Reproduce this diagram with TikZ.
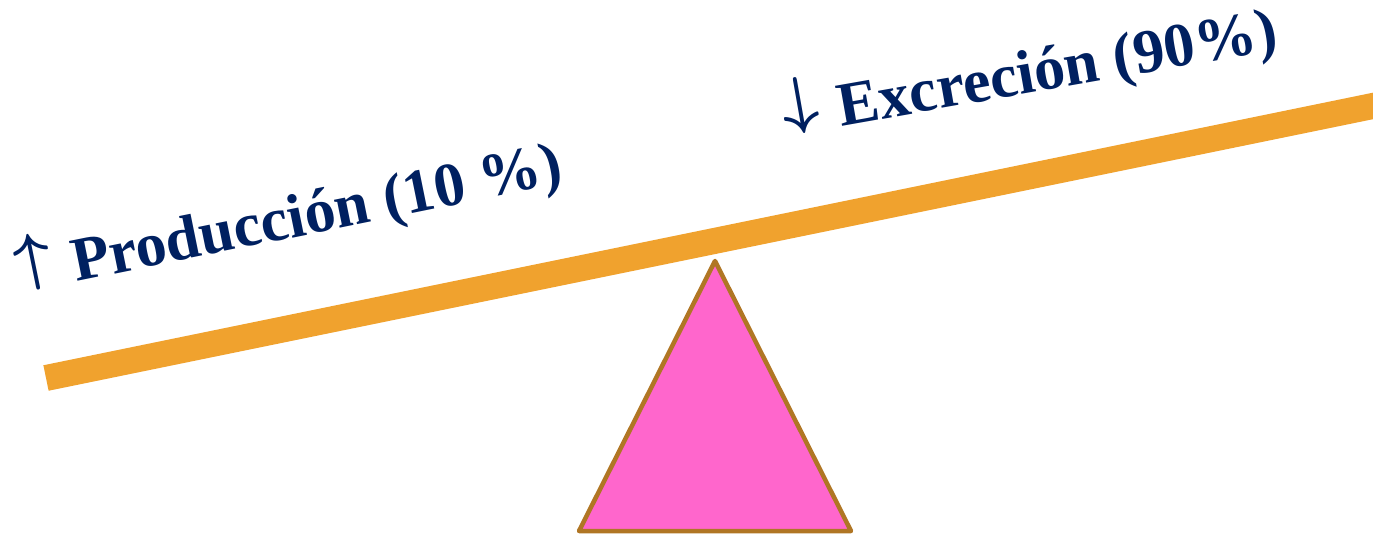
\documentclass[tikz,border=0pt]{standalone}
\usepackage{graphicx}
\usepackage{fontspec}
\setmainfont{Liberation Serif}
\newfontfamily\labelfont{Liberation Serif}
\definecolor{beamorange}{RGB}{240,162,46}
\definecolor{pivotpink}{RGB}{255,102,204}
\definecolor{pivotbrown}{RGB}{176,118,36}
\definecolor{labelnavy}{RGB}{0,32,96}
\newcommand{\bigarrow}[1]{\raisebox{0.4ex}{\scalebox{6.4}{\normalsize\boldmath$#1$}}\hspace{4pt}}

\begin{document}
\begin{tikzpicture}[
  x=1pt, y=-1pt,
  beam/.style={draw=beamorange, line width=26pt},
  pivot/.style={draw=pivotbrown, fill=pivotpink, line width=4.5pt, line join=round},
  lbl/.style={text=labelnavy, font=\labelfont\bfseries\fontsize{62}{66}\selectfont,
    inner sep=0pt, anchor=base west}
]
  \useasboundingbox (0,0) rectangle (1373,534);
  \clip (0,0) rectangle (1373,534);
  % seesaw beam
  \coordinate (beamL) at (46,378);
  \coordinate (beamR) at (1420,96.3);
  \draw[beam] (beamL) -- (beamR);
  % pivot
  \coordinate (apex) at (715,261);
  \coordinate (baseL) at (579,531);
  \coordinate (baseR) at (851,531);
  \draw[pivot] (apex) -- (baseR) -- (baseL) -- cycle;
  % labels
  \node[lbl, rotate=11.5] (prod) at (21,293) {\bigarrow{\uparrow} Producción (10 \%)};
  \node[lbl, rotate=10] (excr) at (786,136) {\bigarrow{\downarrow} Excreción (90\%)};
\end{tikzpicture}
\end{document}
